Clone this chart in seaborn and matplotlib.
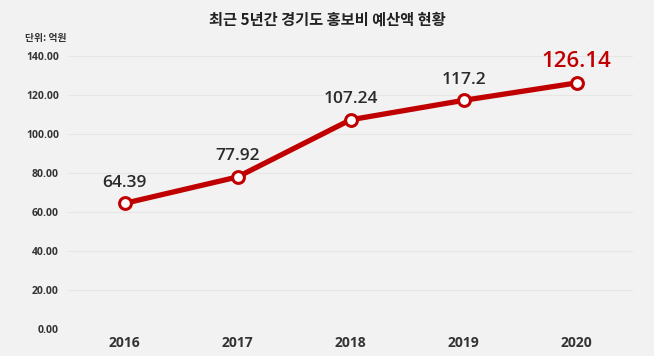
import matplotlib
matplotlib.use("Agg")
import matplotlib.pyplot as plt
import pandas as pd
import seaborn as sns

years = ["2016", "2017", "2018", "2019", "2020"]
budget = [64.39, 77.92, 107.24, 117.2, 126.14]
point_labels = ["64.39", "77.92", "107.24", "117.2", "126.14"]
y_ticks = [0, 20, 40, 60, 80, 100, 120, 140]

sns.set_style("white")
plt.rcParams['font.family'] = ['Open Sans', 'Noto Sans CJK KR', 'DejaVu Sans']

df = pd.DataFrame({"year": years, "budget": budget})
df["pos"] = range(len(df))

bg = "#f2f2f2"
red = "#c00000"
dark = "#2a2a2a"

fig = plt.figure(figsize=(6.54, 3.56), dpi=100)
fig.patch.set_facecolor(bg)
ax = fig.add_axes([0.104, 0.076, 0.864, 0.767])
ax.set_facecolor(bg)

sns.lineplot(data=df, x="pos", y="budget", ax=ax, color=red, linewidth=3.8,
             marker="o", markersize=8.5, markerfacecolor="white",
             markeredgecolor=red, markeredgewidth=2.2, zorder=3)

for i, (v, lab) in enumerate(zip(budget, point_labels)):
    if i == len(budget) - 1:
        ax.annotate(lab, (i, v), xytext=(0, 8), textcoords="offset points",
                    ha="center", va="bottom", fontsize=16, color=red,
                    fontweight="semibold")
    else:
        ax.annotate(lab, (i, v), xytext=(0, 9), textcoords="offset points",
                    ha="center", va="bottom", fontsize=12.5, color=dark,
                    fontweight="semibold")

ax.set_xlim(-0.5, 4.5)
ax.set_ylim(0, 140)
ax.set_yticks(y_ticks)
ax.set_yticklabels([f"{t:.2f}" for t in y_ticks], fontsize=7.5, color="#333333",
                   fontweight="bold")
ax.set_xticks(range(len(years)))
ax.set_xticklabels(years, fontsize=10, color="#333333", fontweight="bold")
ax.tick_params(axis="both", length=0)
ax.tick_params(axis="y", pad=6.5)
ax.tick_params(axis="x", pad=5)
ax.grid(axis="y", color="#e6e6e6", linewidth=0.8)
ax.set_axisbelow(True)
for s in ax.spines.values():
    s.set_visible(False)
ax.set_xlabel("")
ax.set_ylabel("")

fig.text(0.5, 0.945, "최근 5년간 경기도 홍보비 예산액 현황", ha="center", va="center",
         fontsize=11, fontweight="bold", color="#222222",
         family=['Noto Sans CJK KR', 'DejaVu Sans'])
fig.text(0.038, 0.893, "단위: 억원", ha="left", va="center", fontsize=7,
         fontweight="bold", color="#333333",
         family=['Noto Sans CJK KR', 'DejaVu Sans'])

fig.savefig("out.png", dpi=100, facecolor=bg)
